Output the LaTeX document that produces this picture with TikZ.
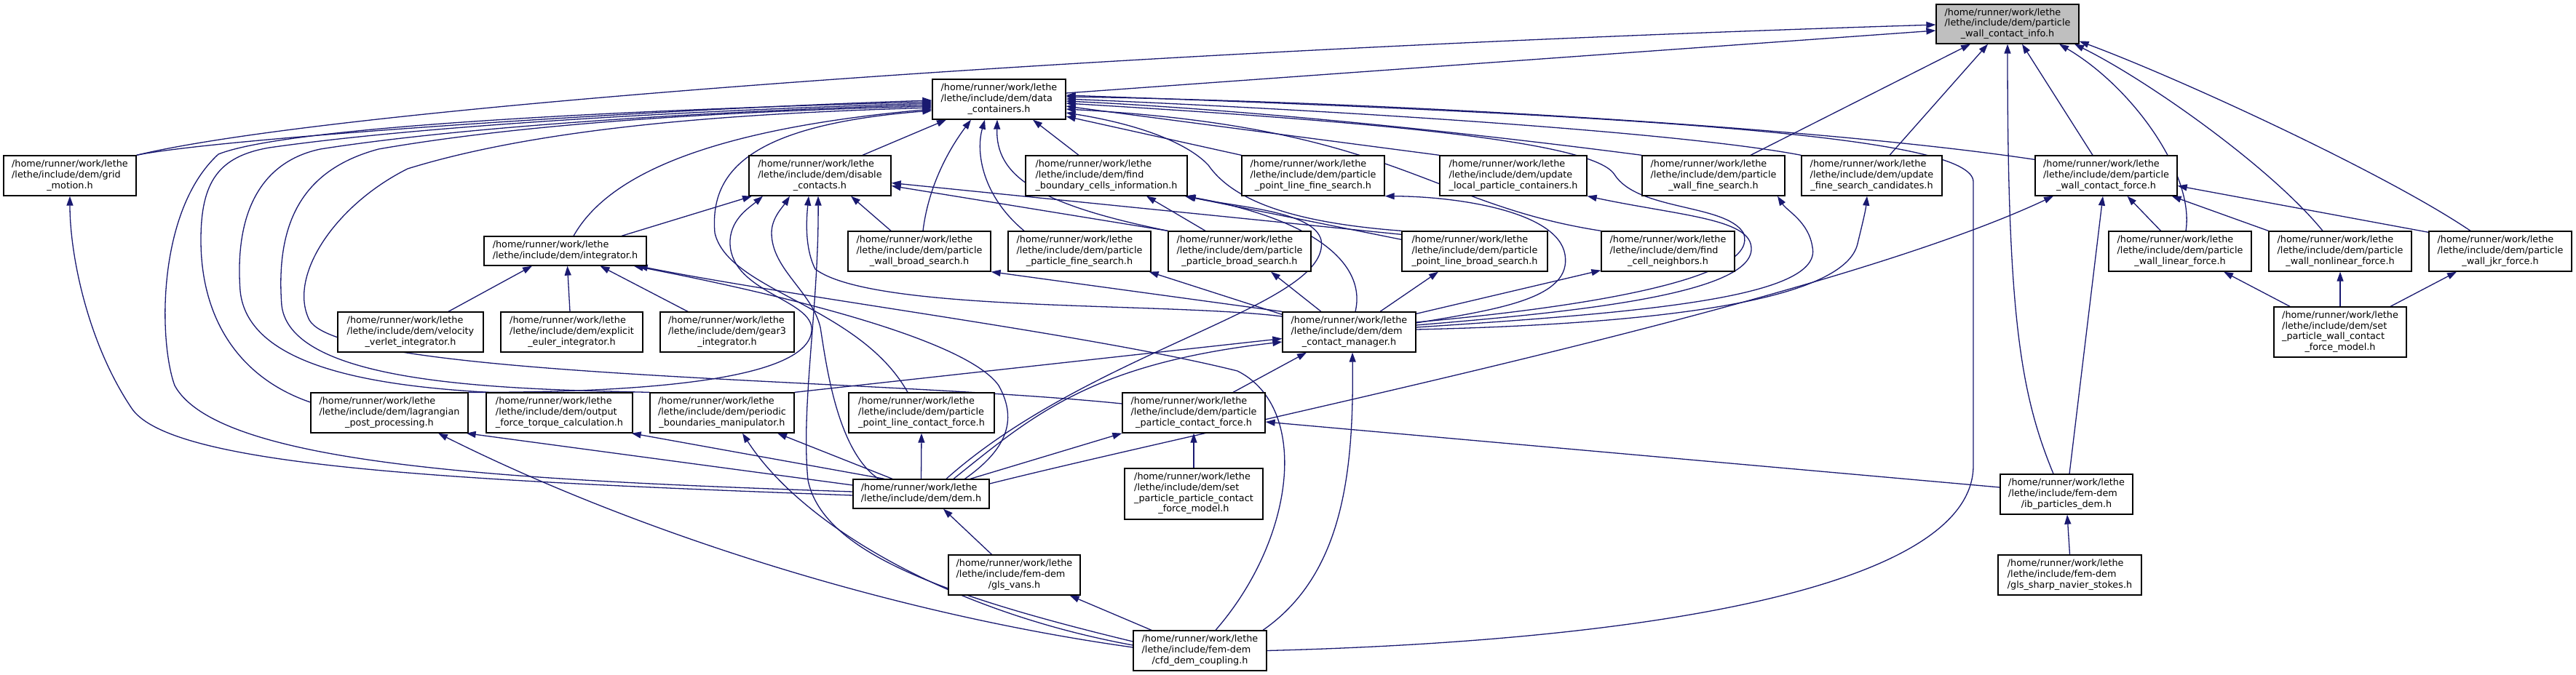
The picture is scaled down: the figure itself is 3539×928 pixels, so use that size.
\documentclass[tikz,border=0pt]{standalone}
\usepackage{fontspec}
\setmainfont{DejaVu Sans}
\usetikzlibrary{arrows.meta}
\definecolor{mblue}{HTML}{191970}
\definecolor{grayfill}{HTML}{BFBFBF}
\newcommand\nf{\fontsize{12.8pt}{14.7pt}\selectfont}
\newcommand\hrl{/home/runner/work/lethe}
\newcommand\lbl[2]{\begin{tabular}{@{}l@{}}#1\\\multicolumn{1}{@{}c@{}}{#2}\end{tabular}}
\pgfdeclarelayer{bg}
\pgfsetlayers{bg,main}
\tikzset{
  box/.style={draw=black, line width=1.3pt, fill=white, inner sep=0pt, font=\nf, rectangle},
  dep/.style={draw=mblue, line width=1.3pt, -{Triangle[length=13pt,width=9pt]}},
}
\begin{document}
\begin{tikzpicture}[x=1pt,y=-1pt]
\useasboundingbox (0,0) rectangle (3539,928);
% ---------------- nodes ----------------
\node[box, fill=grayfill, minimum width=196pt, minimum height=54pt] (pwci) at (2758,33) {\lbl{\hrl\\/lethe/include/dem/particle}{\_wall\_contact\_info.h}};
\node[box, minimum width=183pt, minimum height=55pt] (dc) at (1372.5,136.5) {\lbl{\hrl\\/lethe/include/dem/data}{\_containers.h}};
% row 2
\node[box, minimum width=182pt, minimum height=55pt] (grid) at (96,241.5) {\lbl{\hrl\\/lethe/include/dem/grid}{\_motion.h}};
\node[box, minimum width=195pt, minimum height=55pt] (disable) at (1126.5,241.5) {\lbl{\hrl\\/lethe/include/dem/disable}{\_contacts.h}};
\node[box, minimum width=222pt, minimum height=55pt] (fbci) at (1520,241.5) {\lbl{\hrl\\/lethe/include/dem/find}{\_boundary\_cells\_information.h}};
\node[box, minimum width=196pt, minimum height=55pt] (pplfs) at (1804,241.5) {\lbl{\hrl\\/lethe/include/dem/particle}{\_point\_line\_fine\_search.h}};
\node[box, minimum width=202pt, minimum height=55pt] (uplc) at (2079,241.5) {\lbl{\hrl\\/lethe/include/dem/update}{\_local\_particle\_containers.h}};
\node[box, minimum width=196pt, minimum height=55pt] (pwfs) at (2354,241.5) {\lbl{\hrl\\/lethe/include/dem/particle}{\_wall\_fine\_search.h}};
\node[box, minimum width=193pt, minimum height=55pt] (ufsc) at (2571.5,241.5) {\lbl{\hrl\\/lethe/include/dem/update}{\_fine\_search\_candidates.h}};
\node[box, minimum width=195pt, minimum height=55pt] (pwcf) at (2893.5,241.5) {\lbl{\hrl\\/lethe/include/dem/particle}{\_wall\_contact\_force.h}};
% row 3
\node[box, minimum width=223pt, minimum height=40pt] (integrator) at (776.5,345) {\lbl{\hrl}{/lethe/include/dem/integrator.h}};
\node[box, minimum width=196pt, minimum height=55pt] (pwbs) at (1263,345.5) {\lbl{\hrl\\/lethe/include/dem/particle}{\_wall\_broad\_search.h}};
\node[box, minimum width=196pt, minimum height=55pt] (ppfs) at (1483,345.5) {\lbl{\hrl\\/lethe/include/dem/particle}{\_particle\_fine\_search.h}};
\node[box, minimum width=196pt, minimum height=55pt] (ppbs) at (1703,345.5) {\lbl{\hrl\\/lethe/include/dem/particle}{\_particle\_broad\_search.h}};
\node[box, minimum width=200pt, minimum height=55pt] (pplbs) at (2026,345.5) {\lbl{\hrl\\/lethe/include/dem/particle}{\_point\_line\_broad\_search.h}};
\node[box, minimum width=183pt, minimum height=55pt] (fcn) at (2291.5,345.5) {\lbl{\hrl\\/lethe/include/dem/find}{\_cell\_neighbors.h}};
\node[box, minimum width=196pt, minimum height=55pt] (pwlf) at (2995,345.5) {\lbl{\hrl\\/lethe/include/dem/particle}{\_wall\_linear\_force.h}};
\node[box, minimum width=196pt, minimum height=55pt] (pwnlf) at (3215,345.5) {\lbl{\hrl\\/lethe/include/dem/particle}{\_wall\_nonlinear\_force.h}};
\node[box, minimum width=196pt, minimum height=55pt] (pwjkr) at (3435,345.5) {\lbl{\hrl\\/lethe/include/dem/particle}{\_wall\_jkr\_force.h}};
% row 4
\node[box, minimum width=200pt, minimum height=55pt] (velocity) at (564,456.5) {\lbl{\hrl\\/lethe/include/dem/velocity}{\_verlet\_integrator.h}};
\node[box, minimum width=195pt, minimum height=55pt] (explicit) at (785.5,456.5) {\lbl{\hrl\\/lethe/include/dem/explicit}{\_euler\_integrator.h}};
\node[box, minimum width=184pt, minimum height=55pt] (gear3) at (999,456.5) {\lbl{\hrl\\/lethe/include/dem/gear3}{\_integrator.h}};
\node[box, minimum width=183pt, minimum height=55pt] (cm) at (1853.5,456.5) {\lbl{\hrl\\/lethe/include/dem/dem}{\_contact\_manager.h}};
\node[box, minimum width=182pt, minimum height=69pt] (setpw) at (3215,456.5) {\lbl{\hrl\\/lethe/include/dem/set\\\_particle\_wall\_contact}{\_force\_model.h}};
% row 5
\node[box, minimum width=216pt, minimum height=55pt] (lag) at (535,567.5) {\lbl{\hrl\\/lethe/include/dem/lagrangian}{\_post\_processing.h}};
\node[box, minimum width=201pt, minimum height=55pt] (output) at (768.5,567.5) {\lbl{\hrl\\/lethe/include/dem/output}{\_force\_torque\_calculation.h}};
\node[box, minimum width=198pt, minimum height=55pt] (periodic) at (992,567.5) {\lbl{\hrl\\/lethe/include/dem/periodic}{\_boundaries\_manipulator.h}};
\node[box, minimum width=200pt, minimum height=55pt] (pplcf) at (1266,567.5) {\lbl{\hrl\\/lethe/include/dem/particle}{\_point\_line\_contact\_force.h}};
\node[box, minimum width=196pt, minimum height=55pt] (ppcf) at (1640,567.5) {\lbl{\hrl\\/lethe/include/dem/particle}{\_particle\_contact\_force.h}};
% row 6
\node[box, minimum width=187pt, minimum height=40pt] (dem) at (1265.5,679) {\lbl{\hrl}{/lethe/include/dem/dem.h}};
\node[box, minimum width=190pt, minimum height=70pt] (setpp) at (1640,679) {\lbl{\hrl\\/lethe/include/dem/set\\\_particle\_particle\_contact}{\_force\_model.h}};
\node[box, minimum width=182pt, minimum height=55pt] (ib) at (2839,679.5) {\lbl{\hrl\\/lethe/include/fem-dem}{/ib\_particles\_dem.h}};
% row 7
\node[box, minimum width=181pt, minimum height=55pt] (glsvans) at (1393.5,790.5) {\lbl{\hrl\\/lethe/include/fem-dem}{/gls\_vans.h}};
\node[box, minimum width=197pt, minimum height=55pt] (glssharp) at (2843.5,790.5) {\lbl{\hrl\\/lethe/include/fem-dem}{/gls\_sharp\_navier\_stokes.h}};
% row 8
\node[box, minimum width=183pt, minimum height=55pt] (cfd) at (1648.5,894.5) {\lbl{\hrl\\/lethe/include/fem-dem}{/cfd\_dem\_coupling.h}};

% ---------------- edges ----------------
\begin{pgfonlayer}{bg}
% into particle_wall_contact_info
\draw[dep] (grid.north east) .. controls (450,150) and (1500,70) .. ([yshift=-1pt]pwci.west);
\draw[dep] ([yshift=8.5pt]dc.east) -- ([yshift=-9pt]pwci.west);
\draw[dep] ([xshift=51pt]pwfs.north) -- ([xshift=-51pt]pwci.south);
\draw[dep] ([xshift=24.5pt]ufsc.north) -- ([xshift=-27pt]pwci.south);
\draw[dep] ([xshift=-18pt]ib.north) .. controls (2775,540) and (2758,430) .. (pwci.south);
\draw[dep] ([xshift=-18.5pt]pwcf.north) -- ([xshift=20pt]pwci.south);
\draw[dep] ([xshift=8pt]pwlf.north) .. controls (3015,240) and (2930,120) .. ([xshift=71pt]pwci.south);
\draw[dep] ([xshift=-24pt]pwnlf.north) .. controls (3120,230) and (2950,110) .. ([xshift=92pt]pwci.south);
\draw[dep] ([xshift=-41pt]pwjkr.north) .. controls (3280,240) and (3000,110) .. ([yshift=4pt]pwci.south east);
% into data_containers (left)
\draw[dep] (grid.north east) .. controls (300,190) and (900,150) .. ([yshift=-1.5pt]dc.west);
\draw[dep] ([yshift=3pt]dem.west) .. controls (700,660) and (300,640) .. (240,530) .. controls (218,470) and (215,290) .. (300,212) .. controls (400,172) and (900,150) .. ([yshift=-3.5pt]dc.west);
\draw[dep] ([yshift=14.5pt]lag.west) .. controls (330,520) and (276,440) .. (276,330) .. controls (276,250) and (300,215) .. (370,203) .. controls (600,170) and (1000,150) .. ([yshift=-5.5pt]dc.west);
\draw[dep] ([xshift=4pt]output.north west) .. controls (500,530) and (340,500) .. (330,400) .. controls (322,290) and (360,222) .. (440,205) .. controls (650,172) and (1000,152) .. ([yshift=-7.5pt]dc.west);
\draw[dep] (periodic.north west) .. controls (700,535) and (400,530) .. (387,420) .. controls (378,300) and (420,232) .. (520,205) .. controls (750,165) and (1050,152) .. ([yshift=-9.5pt]dc.west);
\draw[dep] ([yshift=12.5pt]ppcf.west) .. controls (1200,520) and (470,520) .. (425,440) .. controls (395,380) and (460,282) .. (560,232) .. controls (760,170) and (1050,155) .. ([yshift=-11.5pt]dc.west);
\draw[dep] ([xshift=11.5pt]integrator.north) .. controls (830,250) and (950,180) .. ([yshift=-13.5pt]dc.west);
\draw[dep] ([xshift=-19pt]pplcf.north) .. controls (1180,420) and (1000,400) .. (982,320) .. controls (975,235) and (1030,172) .. ([yshift=-15.5pt]dc.west);
% into data_containers (bottom)
\draw[dep] ([xshift=58.5pt]disable.north) -- ([xshift=-72.5pt]dc.south);
\draw[dep] ([xshift=5pt]pwbs.north) .. controls (1275,260) and (1300,210) .. ([xshift=-38.5pt]dc.south);
\draw[dep] ([xshift=-76pt]ppfs.north) .. controls (1350,270) and (1340,210) .. ([xshift=-19.5pt]dc.south);
\draw[dep] (ppbs.north west) .. controls (1420,280) and (1368,240) .. ([xshift=-2.5pt]dc.south);
\draw[dep] ([xshift=-38pt]fbci.north) -- ([xshift=46.5pt]dc.south);
% into data_containers (right)
\draw[dep] (pplfs.north west) -- ([yshift=-23.5pt]dc.east);
\draw[dep] (uplc.north west) -- ([yshift=-9.5pt]dc.east);
\draw[dep] (pwfs.north west) .. controls (2000,180) and (1700,150) .. ([yshift=-2.5pt]dc.east);
\draw[dep] (ufsc.north west) .. controls (2300,180) and (1800,150) .. ([yshift=0.5pt]dc.east);
\draw[dep] ([yshift=-6pt]pwcf.north west) .. controls (2500,175) and (1900,140) .. ([yshift=3.5pt]dc.east);
\draw[dep] (fcn.north west) .. controls (1960,280) and (1920,175) .. ([yshift=-13.5pt]dc.east);
\draw[dep] (pplbs.north west) .. controls (1760,305) and (1690,270) .. (1660,227) .. controls (1630,195) and (1560,170) .. ([yshift=-18.5pt]dc.east);
\draw[dep] ([yshift=13.5pt]cm.east) .. controls (2200,420) and (2420,380) .. (2395,320) .. controls (2370,280) and (2250,290) .. (2218,240) .. controls (2190,195) and (1900,168) .. ([yshift=-5.5pt]dc.east);
\draw[dep] (cfd.east) .. controls (2300,880) and (2711,800) .. (2711,640) -- (2711,250) .. controls (2711,190) and (2300,160) .. ([yshift=5.5pt]dc.east);
% into disable_contacts
\draw[dep] ([xshift=77.5pt]integrator.north) -- ([xshift=-93.5pt]disable.south);
\draw[dep] (lag.north east) .. controls (900,540) and (1120,520) .. (1115,450) .. controls (1110,410) and (1000,400) .. (1003,330) .. controls (1005,300) and (1030,285) .. ([xshift=-78.5pt]disable.south);
\draw[dep] ([xshift=-58.5pt]dem.north) .. controls (1150,620) and (1135,500) .. (1127,450) .. controls (1115,400) and (1060,370) .. (1060,320) .. controls (1060,300) and (1075,285) .. ([xshift=-41.5pt]disable.south);
\draw[dep] ([yshift=21.5pt]cm.west) .. controls (1600,415) and (1200,430) .. (1120,370) .. controls (1105,340) and (1108,300) .. ([xshift=-15.5pt]disable.south);
\draw[dep] ([yshift=12.5pt]cfd.west) .. controls (1300,820) and (1130,760) .. (1110,660) .. controls (1100,560) and (1125,420) .. ([xshift=-2.5pt]disable.south);
\draw[dep] ([xshift=-39pt]pwbs.north) -- ([xshift=42.5pt]disable.south);
\draw[dep] (ppbs.north west) -- ([yshift=-14pt]disable.east);
\draw[dep] ([yshift=-5pt]pplbs.north west) -- ([yshift=-10pt]disable.east);
% into find_boundary_cells_information
\draw[dep] ([xshift=-47pt]ppbs.north) -- ([xshift=55pt]fbci.south);
\draw[dep] ([yshift=-12pt]pplbs.north west) -- ([xshift=-4pt]fbci.south east);
\draw[dep] ([xshift=34.5pt]dem.north) .. controls (1500,480) and (1830,420) .. (1815,330) .. controls (1805,290) and (1700,285) .. ([xshift=-2pt]fbci.south east);
\draw[dep] ([xshift=8.5pt]cm.north) .. controls (1878,360) and (1800,300) .. ([xshift=-3pt]fbci.south east);
% dem.h
\draw[dep] ([yshift=-2pt]dem.west) .. controls (600,660) and (230,640) .. (180,560) .. controls (120,470) and (96,350) .. (grid.south);
\draw[dep] ([yshift=12pt]dem.west) -- ([xshift=-3pt]lag.south east);
\draw[dep] ([xshift=-50.5pt]dem.north) -- ([xshift=-2pt]output.south east);
\draw[dep] ([xshift=-39.5pt]dem.north) -- ([xshift=76pt]periodic.south);
\draw[dep] (dem.north) -- (pplcf.south);
\draw[dep] ([xshift=67.5pt]dem.north) -- (ppcf.south west);
\draw[dep] ([xshift=44.5pt]dem.north) .. controls (1420,570) and (1500,500) .. ([yshift=-13.5pt]cm.west);
\draw[dep] ([yshift=14pt]dem.east) .. controls (1700,580) and (2500,420) .. ([xshift=-72.5pt]pwcf.south);
\draw[dep] ([xshift=60pt]dem.north) .. controls (1380,620) and (1400,580) .. (1372,530) .. controls (1330,470) and (1100,410) .. ([xshift=-18pt]integrator.south east);
\draw[dep] ([xshift=-31pt]glsvans.north) -- ([xshift=30.5pt]dem.south);
% contact manager
\draw[dep] (cm.north west) -- (pwbs.south east);
\draw[dep] ([yshift=-4pt]cm.north west) -- ([xshift=-3pt]ppfs.south east);
\draw[dep] ([xshift=-38.5pt]cm.north) -- ([xshift=43pt]ppbs.south);
\draw[dep] ([xshift=42.5pt]cm.north) -- ([xshift=-50pt]pplbs.south);
\draw[dep] ([yshift=-3pt]cm.north east) -- ([yshift=2pt]fcn.south west);
\draw[dep] ([yshift=12.5pt]cm.east) .. controls (2060,425) and (2160,410) .. (2150,350) .. controls (2140,290) and (2000,270) .. (pplfs.south east);
\draw[dep] ([yshift=9.5pt]cm.east) .. controls (2150,430) and (2425,405) .. (2405,335) .. controls (2395,300) and (2300,295) .. (uplc.south east);
\draw[dep] ([yshift=6.5pt]cm.east) .. controls (2250,430) and (2505,410) .. (2490,340) .. controls (2485,305) and (2455,290) .. ([xshift=88pt]pwfs.south);
\draw[dep] ([yshift=3.5pt]cm.east) .. controls (2300,445) and (2535,410) .. (2552,335) .. controls (2558,310) and (2563,290) .. ([xshift=-6.5pt]ufsc.south);
\draw[dep] ([xshift=54pt]ppcf.north) -- ([xshift=-58.5pt]cm.south);
\draw[dep] (periodic.north east) -- ([yshift=-9pt]cm.west);
% cfd_dem_coupling
\draw[dep] ([xshift=86.5pt]cfd.north) .. controls (1845,790) and (1860,650) .. ([xshift=4.5pt]cm.south);
\draw[dep] ([xshift=-66.5pt]cfd.north) -- ([xshift=-15pt]glsvans.south east);
\draw[dep] ([yshift=4.5pt]cfd.west) .. controls (1200,840) and (850,720) .. ([xshift=67pt]lag.south);
\draw[dep] ([yshift=7.5pt]cfd.west) .. controls (1300,840) and (1100,720) .. ([xshift=28pt]periodic.south);
\draw[dep] ([xshift=21.5pt]cfd.north) .. controls (1780,740) and (1800,560) .. (1700,510) .. controls (1500,460) and (1100,410) .. ([xshift=-12pt]integrator.south east);
% ib / gls sharp
\draw[dep] ([yshift=9.5pt]ib.west) -- ([yshift=-12.5pt]ppcf.east);
\draw[dep] ([xshift=4pt]ib.north) -- ([xshift=-4.5pt]pwcf.south);
\draw[dep] (glssharp.north) -- ([xshift=1pt]ib.south);
% particle wall forces
\draw[dep] ([xshift=-26.5pt]pwlf.north) -- ([xshift=29pt]pwcf.south);
\draw[dep] (pwnlf.north west) -- ([xshift=-8pt]pwcf.south east);
\draw[dep] ([yshift=-2pt]pwjkr.north west) -- ([yshift=-14pt]pwcf.east);
\draw[dep] ([xshift=-69pt]setpw.north) -- ([xshift=60pt]pwlf.south);
\draw[dep] (setpw.north) -- (pwnlf.south);
\draw[dep] ([xshift=69pt]setpw.north) -- ([xshift=-60pt]pwjkr.south);
% integrators
\draw[dep] ([xshift=52pt]velocity.north) -- ([xshift=-45.5pt]integrator.south);
\draw[dep] ([xshift=-2.5pt]explicit.north) -- ([xshift=3pt]integrator.south);
\draw[dep] ([xshift=-54pt]gear3.north) -- ([xshift=48pt]integrator.south);
% set particle particle
\draw[dep] (setpp.north) -- (ppcf.south);
\end{pgfonlayer}
\end{tikzpicture}
\end{document}
